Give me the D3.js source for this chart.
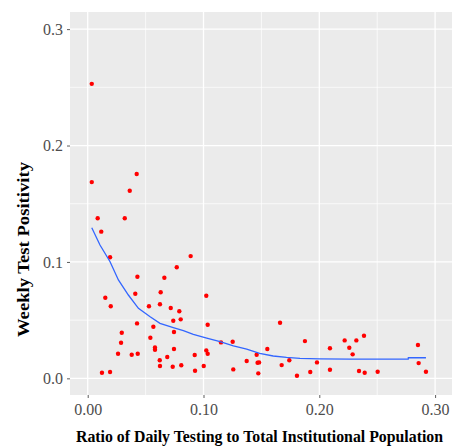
<!DOCTYPE html>
<html>
<head>
<meta charset="utf-8">
<script src="https://cdn.jsdelivr.net/npm/d3@7"></script>
<style>
  html, body { margin: 0; padding: 0; background: #fff; }
  svg { display: block; }
  text { font-family: "Liberation Serif", "Times New Roman", serif; }
</style>
</head>
<body>
<svg id="chart" width="468" height="447"></svg>
<script>
// Ratio of daily testing to institutional population (x) and weekly positivity (y)
const ratio = [
  0.0035, 0.0035, 0.0423, 0.0363, 0.0086, 0.0320, 0.0117, 0.0193, 0.0889, 0.0769,
  0.0429, 0.0662, 0.0630, 0.0411, 0.0152, 0.1024, 0.0199, 0.0529, 0.0624, 0.0717,
  0.0791, 0.0803, 0.0739, 0.1036, 0.0426, 0.0567, 0.0294, 0.0745, 0.0541, 0.0288,
  0.1151, 0.1252, 0.0581, 0.0581, 0.0745, 0.1024, 0.1036, 0.0262, 0.0380, 0.0432,
  0.0924, 0.0687, 0.0622, 0.1373, 0.1459, 0.1467, 0.1480, 0.0624, 0.0734, 0.0808,
  0.1002, 0.0927, 0.1257, 0.0123, 0.0193, 0.1473, 0.1551, 0.1661, 0.1675, 0.1741,
  0.1807, 0.1876, 0.1922, 0.1980, 0.2092, 0.2092, 0.2219, 0.2259, 0.2288, 0.2320,
  0.2386, 0.2343, 0.2392, 0.2504, 0.2852, 0.2858, 0.2921
];
const positivity = [
  0.2530, 0.1686, 0.1755, 0.1612, 0.1375, 0.1375, 0.1260, 0.1040, 0.1050, 0.0954,
  0.0873, 0.0864, 0.0739, 0.0727, 0.0692, 0.0710, 0.0619, 0.0619, 0.0636, 0.0604,
  0.0576, 0.0507, 0.0495, 0.0460, 0.0472, 0.0443, 0.0392, 0.0398, 0.0349, 0.0306,
  0.0309, 0.0315, 0.0266, 0.0246, 0.0252, 0.0240, 0.0211, 0.0211, 0.0203, 0.0211,
  0.0200, 0.0183, 0.0155, 0.0149, 0.0203, 0.0134, 0.0137, 0.0106, 0.0100, 0.0112,
  0.0106, 0.0065, 0.0077, 0.0048, 0.0054, 0.0043, 0.0252, 0.0478, 0.0114, 0.0155,
  0.0022, 0.0320, 0.0054, 0.0137, 0.0258, 0.0074, 0.0326, 0.0263, 0.0206, 0.0326,
  0.0366, 0.0063, 0.0048, 0.0057, 0.0286, 0.0131, 0.0057
];

// Smoothed trend
const trendX = [0.0035, 0.0106, 0.0193, 0.0265, 0.0351, 0.0438, 0.0539, 0.0624, 0.0739, 0.0826,
  0.0912, 0.1028, 0.1143, 0.1258, 0.1373, 0.1485, 0.1602, 0.1717, 0.1833, 0.2005, 0.2264, 0.2768, 0.2769, 0.2921];
const trendY = [0.1294, 0.1145, 0.1002, 0.0845, 0.0716, 0.0601, 0.0529, 0.0472, 0.0435, 0.0409,
  0.0378, 0.0346, 0.0315, 0.0280, 0.0252, 0.0215, 0.0192, 0.0180, 0.0172, 0.0168, 0.0166, 0.0166, 0.0177, 0.0177];

const xTicks = [0, 0.1, 0.2, 0.3];
const xMinor = [0.05, 0.15, 0.25];
const yTicks = [0, 0.1, 0.2, 0.3];
const yMinor = [0.05, 0.15, 0.25];

const svg = d3.select("#chart");
const panel = { left: 70, right: 452, top: 12, bottom: 395 };

const x = d3.scaleLinear().domain([-0.0153, 0.3146]).range([panel.left, panel.right]);
const y = d3.scaleLinear().domain([-0.0143, 0.3147]).range([panel.bottom, panel.top]);

// panel background
svg.append("rect")
  .attr("x", panel.left).attr("y", panel.top)
  .attr("width", panel.right - panel.left).attr("height", panel.bottom - panel.top)
  .attr("fill", "#EBEBEB");

const grid = svg.append("g");
grid.selectAll(".vminor").data(xMinor).join("line")
  .attr("x1", d => x(d)).attr("x2", d => x(d))
  .attr("y1", panel.top).attr("y2", panel.bottom)
  .attr("stroke", "#fff").attr("stroke-width", 0.7);
grid.selectAll(".hminor").data(yMinor).join("line")
  .attr("y1", d => y(d)).attr("y2", d => y(d))
  .attr("x1", panel.left).attr("x2", panel.right)
  .attr("stroke", "#fff").attr("stroke-width", 0.7);
grid.selectAll(".vmajor").data(xTicks).join("line")
  .attr("x1", d => x(d)).attr("x2", d => x(d))
  .attr("y1", panel.top).attr("y2", panel.bottom)
  .attr("stroke", "#fff").attr("stroke-width", 1.3);
grid.selectAll(".hmajor").data(yTicks).join("line")
  .attr("y1", d => y(d)).attr("y2", d => y(d))
  .attr("x1", panel.left).attr("x2", panel.right)
  .attr("stroke", "#fff").attr("stroke-width", 1.3);

// axes
const xAxis = d3.axisBottom(x).tickValues(xTicks).tickFormat(d3.format(".2f")).tickSize(3).tickPadding(6);
const yAxis = d3.axisLeft(y).tickValues(yTicks).tickFormat(d3.format(".1f")).tickSize(3).tickPadding(4);

const gx = svg.append("g").attr("transform", `translate(0,${panel.bottom})`).call(xAxis);
const gy = svg.append("g").attr("transform", `translate(${panel.left},0)`).call(yAxis);
[gx, gy].forEach(g => {
  g.attr("font-family", null).attr("font-size", null);
  g.select(".domain").remove();
  g.selectAll(".tick line").attr("stroke", "#333").attr("stroke-width", 0.8);
  g.selectAll(".tick text")
    .attr("fill", "#4D4D4D")
    .attr("font-family", "Liberation Serif, serif")
    .attr("font-size", 16);
});

// points
svg.append("g").selectAll("circle").data(ratio.map((r, i) => [r, positivity[i]])).join("circle")
  .attr("cx", d => x(d[0])).attr("cy", d => y(d[1])).attr("r", 2.2)
  .attr("fill", "#FF0000");

// trend line
const line = d3.line().x(d => x(d[0])).y(d => y(d[1]));
svg.append("path")
  .datum(trendX.map((v, i) => [v, trendY[i]]))
  .attr("d", line).attr("fill", "none")
  .attr("stroke", "#3366FF").attr("stroke-width", 1.3);

// axis titles
svg.append("text")
  .attr("x", 259.5).attr("y", 442)
  .attr("text-anchor", "middle")
  .attr("textLength", 367).attr("lengthAdjust", "spacingAndGlyphs")
  .style("font-size", "16px").style("font-weight", "bold").attr("fill", "#000")
  .text("Ratio of Daily Testing to Total Institutional Population");

svg.append("text")
  .attr("transform", "translate(28.5,249.5) rotate(-90)")
  .attr("text-anchor", "middle")
  .attr("textLength", 175).attr("lengthAdjust", "spacingAndGlyphs")
  .style("font-size", "17px").style("font-weight", "bold").attr("fill", "#000")
  .text("Weekly Test Positivity");
</script>
</body>
</html>
